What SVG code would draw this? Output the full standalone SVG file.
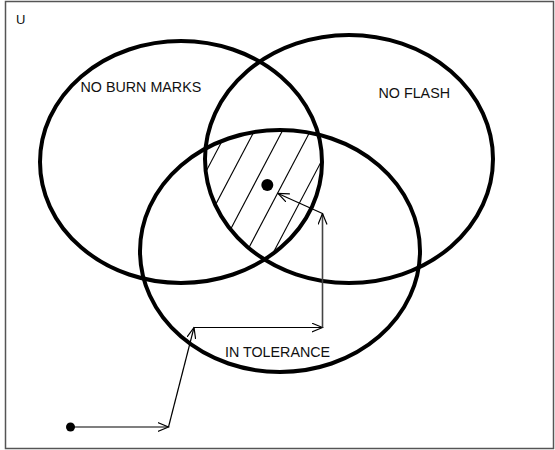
<svg xmlns="http://www.w3.org/2000/svg" width="555" height="450" viewBox="0 0 555 450">
<style>
.set{fill:none;stroke:#000;stroke-width:4}
.lbl{font-family:"Liberation Sans",Arial,sans-serif;fill:#111;font-size:14.3px}
.hatch line{stroke:#000;stroke-width:1.1}
.arr{stroke:#000;stroke-width:1.2;fill:none;marker-end:url(#ah)}
</style>
<defs>
<marker id="ah" viewBox="0 0 12 10" refX="11" refY="5" markerWidth="12" markerHeight="10" markerUnits="userSpaceOnUse" orient="auto">
<path d="M0,0.5 L11,5 L0,9.5" fill="none" stroke="#000" stroke-width="1.2"/>
</marker>
<clipPath id="cL"><ellipse cx="181" cy="162" rx="141" ry="121"/></clipPath>
<clipPath id="cR"><ellipse cx="349" cy="159" rx="144" ry="124"/></clipPath>
<clipPath id="cB"><ellipse cx="280" cy="251" rx="140" ry="121"/></clipPath>
</defs>
<rect id="universe" x="5.5" y="1.5" width="548" height="447" fill="#fff" stroke="#555" stroke-width="1.5"/>
<text class="lbl" x="16" y="24" style="font-size:13px">U</text>
<g id="hatched" class="hatch" clip-path="url(#cL)"><g clip-path="url(#cR)"><g clip-path="url(#cB)">
<line x1="151" y1="276" x2="241" y2="105"/>
<line x1="178" y1="276" x2="268" y2="105"/>
<line x1="206" y1="276" x2="296" y2="105"/>
<line x1="234" y1="276" x2="324" y2="105"/>
<line x1="261" y1="276" x2="351" y2="105"/>
<line x1="289" y1="276" x2="379" y2="105"/>
</g></g></g>
<g id="no-burn-marks">
<ellipse class="set" cx="181" cy="162" rx="141" ry="121"/>
<text class="lbl" x="80.5" y="91.5">NO BURN MARKS</text>
</g>
<g id="no-flash">
<ellipse class="set" cx="349" cy="159" rx="144" ry="124"/>
<text class="lbl" x="378.5" y="97.5">NO FLASH</text>
</g>
<g id="in-tolerance">
<ellipse class="set" cx="280" cy="251" rx="140" ry="121"/>
<text class="lbl" x="225" y="357">IN TOLERANCE</text>
</g>
<g id="target"><circle cx="267.3" cy="185" r="6" fill="#000"/></g>
<g id="start"><circle cx="70.5" cy="427" r="4.5" fill="#000"/></g>
<g id="connectors">
<line class="arr" x1="70.5" y1="427" x2="168.5" y2="427"/>
<line class="arr" x1="168.5" y1="427" x2="194" y2="327.5"/>
<line class="arr" x1="194" y1="327.5" x2="322.5" y2="327.5"/>
<line class="arr" x1="322.5" y1="327.5" x2="322.5" y2="213.5" style="stroke:#444;stroke-width:1.6"/>
<line class="arr" x1="322.5" y1="213.5" x2="278" y2="193.5"/>
</g>
</svg>
